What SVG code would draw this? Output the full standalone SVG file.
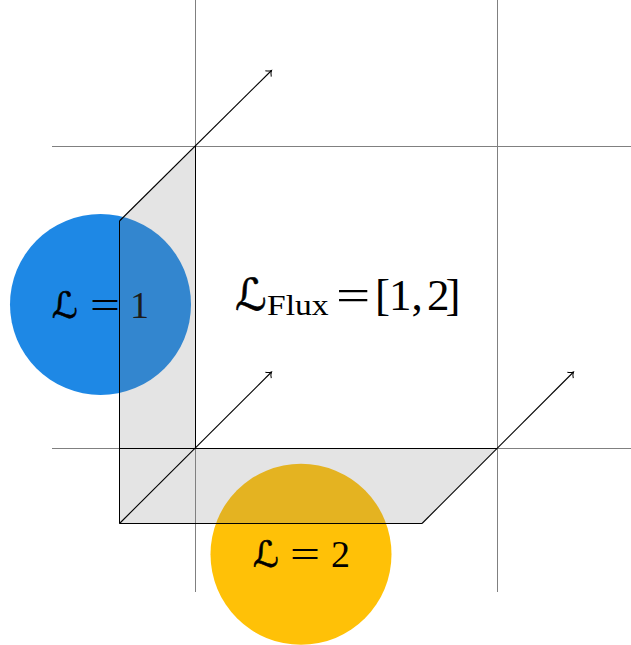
<svg xmlns="http://www.w3.org/2000/svg" width="631" height="645" viewBox="0 0 631 645">
<style>
.g{stroke:#808080;stroke-width:1;fill:none}
.k{stroke:#000;stroke-width:1;fill:none}
.d{stroke:#000;stroke-width:1.1;fill:none}
.s{fill:#808080;fill-opacity:.216;stroke:none}
text{fill:#000;font-family:"Liberation Serif","DejaVu Serif",serif}
.l{font-family:"DejaVu Serif","DejaVu Sans",serif;font-style:italic;stroke:#000;stroke-width:.6}
.m{font-size:38px}
</style>
<defs>
<marker id="a" markerUnits="userSpaceOnUse" markerWidth="12" markerHeight="12" refX="9" refY="6" orient="auto">
<path d="M4.500 1.800Q6.500 5 9 6Q6.500 7 4.500 10.200" fill="none" stroke="#000" stroke-width="1"/>
</marker>
</defs>
<rect width="631" height="645" fill="#fff"/>
<g id="node-l1">
<circle cx="100.500" cy="304.500" r="90.500" fill="#1e88e5"/>
<text class="l" x="52" y="318" font-size="36">ℒ</text>
<text class="m" transform="translate(90 318) scale(1.4 1)">=</text>
<text class="m" x="130" y="318">1</text>
</g>
<g id="node-l2">
<circle cx="301" cy="554.300" r="90.500" fill="#ffc107"/>
<text class="l" x="253" y="567" font-size="36">ℒ</text>
<text class="m" transform="translate(290 567) scale(1.4 1)">=</text>
<text class="m" x="331" y="567">2</text>
</g>
<g id="node-flux">
<text class="l" x="235" y="310" font-size="44">ℒ</text>
<text transform="translate(267 315) scale(1.12 1)" font-size="30">Flux</text>
<text transform="translate(336 310) scale(1.35 1)" font-size="45">=</text>
<text x="373" y="310" font-size="45" word-spacing="-8" dx="2 -1 0 0 1 -4">[1, 2]</text>
</g>
<g id="shading">
<path class="s" d="M119.500 221L195 146V448H497L422 523H119.500Z"/>
</g>
<g id="connectors">
<path class="g" d="M195.500 0V592M497.500 0V592M52 146.500H631M52 448.500H631"/>
<path class="k" d="M119.500 523.500V221M195.500 146V448.500M119.500 448.500H497M119.500 523.500H422"/>
<path class="d" marker-end="url(#a)" d="M119.500 221L271.500 70.500"/>
<path class="d" marker-end="url(#a)" d="M119.500 523.500L271.500 372"/>
<path class="d" marker-end="url(#a)" d="M422 523.500L573.500 372"/>
</g>
</svg>
